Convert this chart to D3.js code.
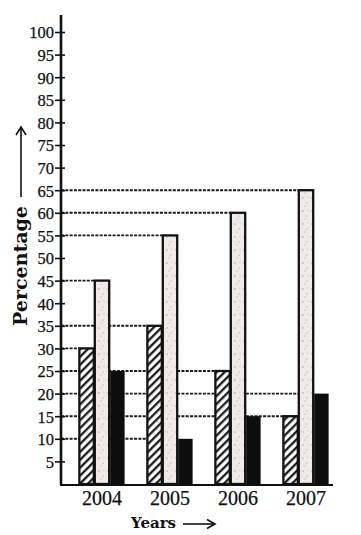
<!DOCTYPE html>
<html>
<head>
<meta charset="utf-8">
<script src="https://cdn.jsdelivr.net/npm/d3@7"></script>
<style>
html,body{margin:0;padding:0;background:#fff;}
svg{display:block;}
</style>
</head>
<body>
<svg id="chart" width="361" height="535"></svg>
<script>
// ---- data ----
const years = ["2004", "2005", "2006", "2007"];
const seriesNames = ["hatched", "dotted", "black"];
const hatchedValues = [30, 35, 25, 15];
const dottedValues = [45, 55, 60, 65];
const blackValues = [25, 10, 15, 20];
const yTickValues = [5, 10, 15, 20, 25, 30, 35, 40, 45, 50, 55, 60, 65, 70, 75, 80, 85, 90, 95, 100];
const yTitle = "Percentage";
const xTitle = "Years";

// ---- layout ----
const svg = d3.select("#chart");
const axisX = 61, baseY = 484, topY = 15, axisEnd = 333;

const y = d3.scaleLinear().domain([0, 100]).range([baseY, 32]);
const x0 = d3.scaleBand().domain(years).range([68, 340]).paddingInner(0.32).paddingOuter(0.16);
const x1 = d3.scaleBand().domain(seriesNames).range([0, x0.bandwidth()]).padding(0);

const series = [
  {name: "hatched", values: hatchedValues},
  {name: "dotted", values: dottedValues},
  {name: "black", values: blackValues}
];

// patterns
const defs = svg.append("defs");
const hp = defs.append("pattern").attr("id", "hatch").attr("patternUnits", "userSpaceOnUse")
  .attr("width", 5.6).attr("height", 10).attr("patternTransform", "rotate(45)");
hp.append("rect").attr("width", 5.6).attr("height", 10).attr("fill", "#fff");
hp.append("line").attr("x1", 1.2).attr("y1", 0).attr("x2", 1.2).attr("y2", 10)
  .attr("stroke", "#111").attr("stroke-width", 2.2);

const dp = defs.append("pattern").attr("id", "dots").attr("patternUnits", "userSpaceOnUse")
  .attr("width", 9).attr("height", 13);
dp.append("rect").attr("width", 9).attr("height", 13).attr("fill", "#efe9e7");
[[2,3,0.7],[6,8,0.6],[4,11,0.5],[7,2,0.45]].forEach(d => {
  dp.append("circle").attr("cx", d[0]).attr("cy", d[1]).attr("r", d[2]).attr("fill", "#9a9494");
});

const fills = {hatched: "url(#hatch)", dotted: "url(#dots)", black: "#0d0d0d"};

// reference dashed lines (behind bars)
const refLines = [];
series.forEach(s => {
  s.values.forEach((v, i) => {
    refLines.push({v: v, x: x0(years[i]) + x1(s.name)});
  });
});
const refMap = d3.rollup(refLines, g => d3.max(g, d => d.x), d => d.v);
svg.append("g").selectAll("line").data(Array.from(refMap, ([v, x]) => ({v, x})))
  .join("line")
  .attr("x1", axisX).attr("x2", d => d.x)
  .attr("y1", d => y(d.v)).attr("y2", d => y(d.v))
  .attr("stroke", "#1a1a1a").attr("stroke-width", 1.9)
  .attr("stroke-dasharray", "3,1.3");

// bars
const groups = svg.append("g").selectAll("g").data(years).join("g")
  .attr("transform", d => `translate(${x0(d)},0)`);
groups.selectAll("rect")
  .data((yr, i) => series.map(s => ({name: s.name, v: s.values[i]})))
  .join("rect")
  .attr("x", d => x1(d.name) + 0.5)
  .attr("y", d => y(d.v))
  .attr("width", x1.bandwidth() - 1)
  .attr("height", d => baseY - y(d.v))
  .attr("fill", d => fills[d.name])
  .attr("stroke", "#111")
  .attr("stroke-width", d => d.name === "black" ? 0 : 2.3);

// axes
svg.append("line").attr("x1", axisX).attr("x2", axisX).attr("y1", topY).attr("y2", baseY + 1)
  .attr("stroke", "#111").attr("stroke-width", 2.6);
svg.append("line").attr("x1", axisX - 1).attr("x2", axisEnd).attr("y1", baseY + 1).attr("y2", baseY + 1)
  .attr("stroke", "#111").attr("stroke-width", 2.2);

const yAxis = d3.axisLeft(y).tickValues(yTickValues).tickSize(0).tickPadding(0);
const ya = svg.append("g").attr("transform", `translate(${axisX},0)`).call(yAxis);
ya.select(".domain").remove();
ya.selectAll(".tick text").attr("x", -7).attr("dy", "0.36em")
  .attr("font-family", "Liberation Serif").attr("font-size", 16.5).attr("fill", "#111")
  .attr("stroke", "#111").attr("stroke-width", 0.25);
ya.selectAll(".tick").append("line").attr("x1", -6).attr("x2", 4)
  .attr("stroke", "#111").attr("stroke-width", 1.6);

// x labels
svg.append("g").selectAll("text").data(years).join("text")
  .attr("x", d => x0(d) + x0.bandwidth() / 2)
  .attr("y", 505)
  .attr("text-anchor", "middle")
  .attr("font-family", "Liberation Serif").attr("font-size", 20).attr("fill", "#111")
  .attr("stroke", "#111").attr("stroke-width", 0.25)
  .text(d => d);

// titles
svg.append("text")
  .attr("transform", "translate(27,266) rotate(-90)")
  .attr("text-anchor", "middle")
  .attr("font-family", "DejaVu Serif").attr("font-weight", "bold").attr("font-size", 19)
  .attr("fill", "#111")
  .text(yTitle);
// y arrow
svg.append("line").attr("x1", 21).attr("x2", 21).attr("y1", 197).attr("y2", 128)
  .attr("stroke", "#111").attr("stroke-width", 1.6);
svg.append("path").attr("d", "M16,135 L21,127 L26,135")
  .attr("fill", "none").attr("stroke", "#111").attr("stroke-width", 1.6);

svg.append("text")
  .attr("x", 131).attr("y", 528)
  .attr("font-family", "DejaVu Serif").attr("font-weight", "bold").attr("font-size", 15)
  .attr("fill", "#111")
  .text(xTitle);
svg.append("line").attr("x1", 183).attr("x2", 214).attr("y1", 524).attr("y2", 524)
  .attr("stroke", "#111").attr("stroke-width", 1.6);
svg.append("path").attr("d", "M207,519.5 L215,524 L207,528.5")
  .attr("fill", "none").attr("stroke", "#111").attr("stroke-width", 1.6);
</script>
</body>
</html>
